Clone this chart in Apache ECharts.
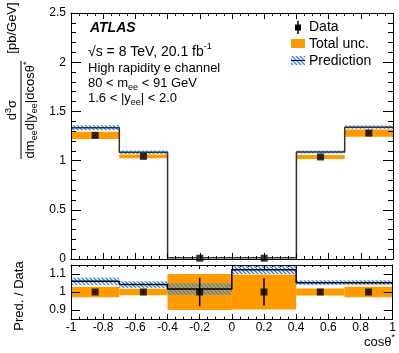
<!DOCTYPE html>
<html>
<head>
<meta charset="utf-8">
<script src="https://cdn.jsdelivr.net/npm/echarts@6/dist/echarts.min.js"></script>
<style>
  html, body { margin: 0; padding: 0; background: #fff; }
  #chart { width: 399px; height: 353px; }
</style>
</head>
<body>
<div id="chart"></div>
<script>
// bins in cos(theta*)
const binLo = [-1, -0.7, -0.4, 0, 0.4, 0.7];
const binHi = [-0.7, -0.4, 0, 0.4, 0.7, 1];
const binMid = [-0.85, -0.55, -0.2, 0.2, 0.55, 0.85];

// upper panel
const dataVal = [1.256, 1.043, 0.008, 0.008, 1.037, 1.28];
const dataErr = [0.004, 0.003, 0.0006, 0.0006, 0.003, 0.004];
const totUnc = [0.037, 0.019, 0.0008, 0.0008, 0.02, 0.037];
const predVal = [1.334, 1.084, 0.013, 0.013, 1.087, 1.34];
const predUnc = [0.026, 0.018, 0.0004, 0.0004, 0.015, 0.017];

// ratio panel
const ratioPred = [1.06, 1.041, 1.017, 1.123, 1.052, 1.052];
const ratioPredUnc = [0.021, 0.019, 0.032, 0.023, 0.013, 0.013];
const ratioTot = [0.029, 0.018, 0.1, 0.097, 0.02, 0.029];
const ratioData = [1, 1, 1, 1, 1, 1];
const ratioDataErr = [0.003, 0.003, 0.079, 0.075, 0.003, 0.003];
const ratioTicks = [0.9, 1, 1.1];

const FONT = 'Liberation Sans, Arial, Helvetica, sans-serif';
const ORANGE = '#ff9a00';
const BLUE = '#2f86e6';

function makeHatch() {
  const c = document.createElement('canvas');
  c.width = 4; c.height = 4;
  const ctx = c.getContext('2d');
  ctx.strokeStyle = BLUE;
  ctx.lineWidth = 1.3;
  ctx.beginPath();
  ctx.moveTo(-1, -1); ctx.lineTo(5, 5);
  ctx.moveTo(-1, 3); ctx.lineTo(1, 5);
  ctx.moveTo(3, -1); ctx.lineTo(5, 1);
  ctx.stroke();
  return c;
}
const hatch = { image: makeHatch(), repeat: 'repeat' };

function bands(center, half) {
  return binLo.map((lo, i) => [lo, binHi[i], center[i] - half[i], center[i] + half[i]]);
}
function steps(vals) {
  const pts = binLo.map((lo, i) => [lo, vals[i]]);
  pts.push([binHi[binHi.length - 1], vals[vals.length - 1]]);
  return pts;
}
function points(vals, errs) {
  return binMid.map((x, i) => [x, vals[i], errs[i]]);
}

function rectItem(fill) {
  return function (params, api) {
    const a = api.coord([api.value(0), api.value(3)]);
    const b = api.coord([api.value(1), api.value(2)]);
    return {
      type: 'rect',
      shape: { x: a[0], y: a[1], width: b[0] - a[0], height: b[1] - a[1] },
      style: { fill: fill }
    };
  };
}
function errItem(params, api) {
  const a = api.coord([api.value(0), api.value(1) - api.value(2)]);
  const b = api.coord([api.value(0), api.value(1) + api.value(2)]);
  return {
    type: 'line',
    shape: { x1: a[0], y1: a[1], x2: b[0], y2: b[1] },
    style: { stroke: '#000', lineWidth: 1.5 }
  };
}

function xAx(grid, pos, showLabel, len) {
  return {
    type: 'value', gridIndex: grid, position: pos, min: -1, max: 1, interval: 0.2, z: 5,
    axisLine: { show: true, onZero: false, lineStyle: { color: '#000', width: 1 } },
    axisTick: { show: true, inside: true, length: len, lineStyle: { color: '#000' } },
    minorTick: { show: true, splitNumber: 4, length: len / 2, lineStyle: { color: '#000' } },
    axisLabel: { show: showLabel, color: '#000', fontSize: 12, fontFamily: FONT, margin: 3 },
    splitLine: { show: false }, minorSplitLine: { show: false }
  };
}
function yMain(pos, showLabel) {
  return {
    type: 'value', gridIndex: 0, position: pos, min: 0, max: 2.5, interval: 0.5, z: 5,
    axisLine: { show: true, onZero: false, lineStyle: { color: '#000', width: 1 } },
    axisTick: { show: true, inside: true, length: 10, lineStyle: { color: '#000' } },
    minorTick: { show: true, splitNumber: 5, length: 5, lineStyle: { color: '#000' } },
    axisLabel: { show: showLabel, color: '#000', fontSize: 12, fontFamily: FONT, margin: 5 },
    splitLine: { show: false }
  };
}
function yRatio(pos, showLabel) {
  return {
    type: 'value', gridIndex: 1, position: pos, min: 0.85, max: 1.15, z: 5,
    axisLine: { show: true, onZero: false, lineStyle: { color: '#000', width: 1 } },
    axisTick: { show: true, inside: true, length: 9, customValues: ratioTicks, lineStyle: { color: '#000' } },
    axisLabel: { show: showLabel, color: '#000', fontSize: 12, fontFamily: FONT, margin: 5, customValues: ratioTicks },
    splitLine: { show: false }
  };
}

const richSS = {
  sub: { fontSize: 9, fontFamily: FONT, verticalAlign: 'bottom', lineHeight: 9 },
  sup: { fontSize: 9, fontFamily: FONT, verticalAlign: 'top', lineHeight: 9 }
};
function label(text, x, y, size, extra) {
  return Object.assign({
    type: 'text', x: x, y: y, z: 20,
    style: {
      text: text, fontSize: size, fontFamily: FONT, fill: '#000',
      align: 'left', verticalAlign: 'middle', textAlign: 'left', textVerticalAlign: 'middle',
      lineHeight: size + 5, rich: richSS
    }
  }, extra || {});
}

const chart = echarts.init(document.getElementById('chart'));
const option = {
  animation: false,
  backgroundColor: '#fff',
  grid: [
    { left: 71, right: 6, top: 13, height: 246 },
    { left: 71, right: 6, top: 265, height: 54 }
  ],
  xAxis: [xAx(0, 'bottom', false, 6), xAx(0, 'top', false, 6), xAx(1, 'bottom', true, 5), xAx(1, 'top', false, 4)],
  yAxis: [yMain('left', true), yMain('right', false), yRatio('left', true), yRatio('right', false)],
  series: [
    { type: 'custom', xAxisIndex: 0, yAxisIndex: 0, data: bands(dataVal, totUnc), encode: { x: [0, 1], y: [2, 3] }, renderItem: rectItem(ORANGE) },
    { type: 'custom', xAxisIndex: 0, yAxisIndex: 0, data: bands(predVal, predUnc), encode: { x: [0, 1], y: [2, 3] }, renderItem: rectItem(hatch) },
    { type: 'line', xAxisIndex: 0, yAxisIndex: 0, step: 'end', symbol: 'none', data: steps(predVal), lineStyle: { color: '#333', width: 1.5 } },
    { type: 'custom', xAxisIndex: 0, yAxisIndex: 0, data: points(dataVal, dataErr), encode: { x: 0, y: 1 }, renderItem: errItem },
    { type: 'scatter', xAxisIndex: 0, yAxisIndex: 0, symbol: 'rect', symbolSize: 7, data: points(dataVal, dataErr), itemStyle: { color: '#000' } },

    { type: 'custom', xAxisIndex: 2, yAxisIndex: 2, data: bands(ratioData, ratioTot), encode: { x: [0, 1], y: [2, 3] }, renderItem: rectItem(ORANGE) },
    { type: 'line', xAxisIndex: 2, yAxisIndex: 2, step: 'end', symbol: 'none', data: steps(ratioPred), lineStyle: { color: '#000', width: 1.5 } },
    { type: 'custom', xAxisIndex: 2, yAxisIndex: 2, data: bands(ratioPred, ratioPredUnc), encode: { x: [0, 1], y: [2, 3] }, renderItem: rectItem(hatch) },
    { type: 'custom', xAxisIndex: 2, yAxisIndex: 2, data: points(ratioData, ratioDataErr), encode: { x: 0, y: 1 }, renderItem: errItem },
    { type: 'scatter', xAxisIndex: 2, yAxisIndex: 2, symbol: 'rect', symbolSize: 7, data: points(ratioData, ratioDataErr), itemStyle: { color: '#000' } }
  ],
  graphic: [
    label('ATLAS', 90, 28.5, 14, {}),
    label('√s = 8 TeV, 20.1 fb{sup|-1}', 88, 52, 14),
    label('High rapidity e channel', 88, 68.5, 13),
    label('80 < m{sub|ee} < 91 GeV', 88, 83, 13),
    label('1.6 < |y{sub|ee}| < 2.0', 88, 98, 13),

    // legend
    { type: 'line', z: 20, shape: { x1: 298, y1: 21, x2: 298, y2: 34 }, style: { stroke: '#000', lineWidth: 1.5 } },
    { type: 'rect', z: 20, shape: { x: 295, y: 24.5, width: 6, height: 6 }, style: { fill: '#000' } },
    { type: 'rect', z: 20, shape: { x: 291, y: 39, width: 14, height: 9 }, style: { fill: ORANGE } },
    { type: 'rect', z: 20, shape: { x: 291, y: 56, width: 14, height: 9 }, style: { fill: hatch } },
    { type: 'line', z: 20, shape: { x1: 291, y1: 60.5, x2: 305, y2: 60.5 }, style: { stroke: '#000', lineWidth: 1 } },
    label('Data', 309, 27.5, 14),
    label('Total unc.', 309, 44, 14),
    label('Prediction', 309, 61, 14),

    // y title of upper panel
    {
      type: 'group', x: 21, y: 110, rotation: Math.PI / 2, z: 20,
      children: [
        { type: 'line', shape: { x1: -49, y1: 0, x2: 49, y2: 0 }, style: { stroke: '#000', lineWidth: 1 } },
        { type: 'text', x: 0, y: -1, style: { text: 'd{sup|3}σ', fontSize: 13, fontFamily: FONT, fill: '#000', align: 'center', verticalAlign: 'bottom', textAlign: 'center', textVerticalAlign: 'bottom', lineHeight: 16, rich: richSS } },
        { type: 'text', x: 0, y: 1, style: { text: 'dm{sub|ee}d|y{sub|ee}|dcosθ{sup|*}', fontSize: 13, fontFamily: FONT, fill: '#000', align: 'center', verticalAlign: 'top', textAlign: 'center', textVerticalAlign: 'top', lineHeight: 17, rich: richSS } },
        { type: 'text', x: 82, y: -1, style: { text: '[pb/GeV]', fontSize: 13, fontFamily: FONT, fill: '#000', align: 'center', verticalAlign: 'bottom', textAlign: 'center', textVerticalAlign: 'bottom', lineHeight: 16 } }
      ]
    },
    // y title of ratio panel
    {
      type: 'text', x: 19, y: 296, rotation: Math.PI / 2, z: 20,
      style: { text: 'Pred. / Data', fontSize: 13, fontFamily: FONT, fill: '#000', align: 'center', verticalAlign: 'middle', textAlign: 'center', textVerticalAlign: 'middle' }
    },
    // x title
    {
      type: 'text', x: 395, y: 342, z: 20,
      style: { text: 'cosθ{sup|*}', fontSize: 13, fontFamily: FONT, fill: '#000', align: 'right', verticalAlign: 'middle', textAlign: 'right', textVerticalAlign: 'middle', lineHeight: 17, rich: richSS }
    }
  ]
};
// ATLAS is bold italic
option.graphic[0].style.fontWeight = 'bold';
option.graphic[0].style.fontStyle = 'italic';
chart.setOption(option);
</script>
</body>
</html>
